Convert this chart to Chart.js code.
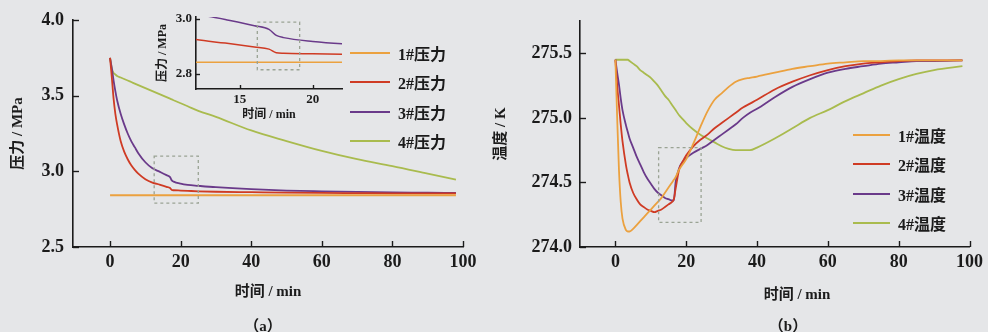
<!DOCTYPE html>
<html>
<head>
<meta charset="utf-8">
<script src="https://cdn.jsdelivr.net/npm/chart.js@4.4.1/dist/chart.umd.min.js"></script>
<style>
  body { margin: 0; background: #e5e6e8; width: 988px; height: 332px; overflow: hidden; position: relative;
    font-family: "Liberation Serif", "Noto Sans CJK SC", serif; font-weight: bold; color: #1b1b1b; }
  canvas { position: absolute; top: 0; }
  .lbl { position: absolute; transform: translate(-50%, -50%); white-space: nowrap; }
  .legend { position: absolute; }
  .legend .row { display: flex; align-items: center; height: 29.5px; font-size: 16px; }
  .legend .line { height: 2px; margin-right: 8px; }
</style>
</head>
<body>
<canvas id="chartA" width="490" height="332" style="left:0"></canvas>
<canvas id="inset" width="210" height="125" style="left:140px"></canvas>
<canvas id="chartB" width="498" height="332" style="left:490px"></canvas>
<div id="legendA" class="legend" style="left:350px; top:38px"></div>
<div id="legendB" class="legend" style="left:853px; top:120px"></div>
<div class="lbl" style="left:797px; top:292px; font-size:15px">时间 / min</div>
<div class="lbl" style="left:263px; top:324px; font-size:15px">（a）</div>
<div class="lbl" style="left:788px; top:324px; font-size:15px">（b）</div>
<script>
const colors = ["#eba13f", "#cf3b24", "#6a3a8a", "#a9bb4e"];
const pressureNames = ["1#压力", "2#压力", "3#压力", "4#压力"];
const tempNames = ["1#温度", "2#温度", "3#温度", "4#温度"];

// (a) pressure, MPa
const timeA = [0, 0.5, 1, 1.5, 2, 3, 4, 5, 6, 7, 8, 10, 12, 14, 16, 17, 17.5, 18, 20, 22, 25, 30, 40, 50, 60, 70, 80, 90, 98];
const p1 = [2.842, 2.842, 2.842, 2.842, 2.842, 2.842, 2.842, 2.842, 2.842, 2.842, 2.842, 2.842, 2.842, 2.842, 2.842, 2.842, 2.842, 2.842, 2.842, 2.842, 2.842, 2.842, 2.842, 2.842, 2.842, 2.842, 2.842, 2.842, 2.842];
const p2 = [3.75, 3.62, 3.48, 3.38, 3.31, 3.2, 3.13, 3.08, 3.04, 3.01, 2.985, 2.948, 2.925, 2.912, 2.898, 2.89, 2.877, 2.875, 2.873, 2.871, 2.868, 2.865, 2.862, 2.859, 2.857, 2.856, 2.855, 2.855, 2.854];
const p3 = [3.75, 3.68, 3.6, 3.53, 3.47, 3.38, 3.31, 3.25, 3.2, 3.16, 3.12, 3.06, 3.02, 2.998, 2.975, 2.962, 2.94, 2.932, 2.918, 2.91, 2.904, 2.895, 2.882, 2.873, 2.868, 2.864, 2.861, 2.859, 2.857];
const p4 = [3.75, 3.68, 3.65, 3.64, 3.63, 3.62, 3.61, 3.6, 3.59, 3.58, 3.57, 3.55, 3.53, 3.51, 3.49, 3.48, 3.475, 3.47, 3.45, 3.43, 3.4, 3.36, 3.27, 3.2, 3.135, 3.08, 3.035, 2.985, 2.945];

// (b) temperature, K
const timeB = [0, 0.5, 1, 1.5, 2, 3, 3.5, 4, 5, 6, 7, 8, 9, 10, 11, 12, 13, 14, 15, 16, 16.5, 17, 18, 19, 20, 22, 24, 26, 28, 30, 32, 34, 36, 38, 40, 45, 50, 55, 60, 65, 70, 75, 80, 85, 90, 98];
const t1 = [275.45, 275.0, 274.6, 274.35, 274.22, 274.13, 274.12, 274.12, 274.14, 274.17, 274.2, 274.23, 274.26, 274.29, 274.32, 274.35, 274.38, 274.42, 274.46, 274.5, 274.52, 274.54, 274.6, 274.64, 274.68, 274.8, 274.93, 275.05, 275.14, 275.19, 275.24, 275.28, 275.3, 275.31, 275.32, 275.35, 275.38, 275.4, 275.42, 275.43, 275.44, 275.44, 275.445, 275.445, 275.445, 275.445];
const t2 = [275.45, 275.25, 275.1, 274.95, 274.82, 274.63, 274.56, 274.5, 274.42, 274.37, 274.33, 274.31, 274.29, 274.28, 274.27, 274.28, 274.29, 274.31, 274.33, 274.35, 274.37, 274.45, 274.6, 274.66, 274.71, 274.78, 274.83, 274.87, 274.92, 274.96, 275.0, 275.04, 275.08, 275.11, 275.14, 275.22, 275.28, 275.33, 275.37, 275.4, 275.42, 275.43, 275.44, 275.445, 275.445, 275.445];
const t3 = [275.45, 275.35, 275.26, 275.15, 275.06, 274.94, 274.89, 274.84, 274.77, 274.7, 274.64, 274.58, 274.53, 274.49, 274.45, 274.42, 274.4, 274.38, 274.37, 274.36, 274.36, 274.5, 274.61, 274.66, 274.69, 274.73, 274.76, 274.79, 274.83, 274.87, 274.91, 274.95, 275.0, 275.04, 275.07, 275.16, 275.24, 275.3, 275.35, 275.38, 275.4, 275.42, 275.43, 275.44, 275.44, 275.445];
const t4 = [275.45, 275.45, 275.45, 275.45, 275.45, 275.45, 275.45, 275.44, 275.42, 275.4, 275.37, 275.35, 275.33, 275.31, 275.28, 275.25, 275.21, 275.17, 275.14, 275.1, 275.08, 275.06, 275.02, 274.99, 274.96, 274.91, 274.87, 274.84, 274.81, 274.78, 274.76, 274.75, 274.75, 274.75, 274.77, 274.84, 274.92, 275.0, 275.06, 275.13, 275.19, 275.25, 275.3, 275.34, 275.37, 275.4];

const ticksXMain = [0, 20, 40, 60, 80, 100];
const ticksYA = [2.5, 3.0, 3.5, 4.0];
const ticksYB = [274.0, 274.5, 275.0, 275.5];
const ticksXInset = [15, 20];
const ticksYInset = [2.8, 3.0];

// zoom boxes [xMin, xMax, yMin, yMax]
const boxA = [12.5, 25, 2.79, 3.1];
const boxInset = [16.2, 19.1, 2.815, 2.988];
const boxB = [12.2, 24.2, 274.19, 274.77];

Chart.defaults.font.family = '"Liberation Serif", "Noto Sans CJK SC", serif';
Chart.defaults.font.weight = "bold";
Chart.defaults.color = "#1b1b1b";

const toPts = (xs, ys) => xs.map((x, i) => ({ x, y: ys[i] }));

// inward tick marks + dotted zoom box
const decor = {
  id: "decor",
  afterDatasetsDraw(chart, args, opts) {
    const { ctx, chartArea: a, scales: { x, y } } = chart;
    ctx.save();
    if (opts.box) {
      const [x0, x1, y0, y1] = opts.box;
      ctx.strokeStyle = "#9aa394";
      ctx.lineWidth = 1.3;
      ctx.setLineDash([3, 3]);
      const l = x.getPixelForValue(x0), r = x.getPixelForValue(x1);
      const t = y.getPixelForValue(y1), b = y.getPixelForValue(y0);
      ctx.strokeRect(l, t, r - l, b - t);
      ctx.setLineDash([]);
    }
    ctx.strokeStyle = "#1b1b1b";
    ctx.lineWidth = 1.4;
    const len = opts.len || 6;
    x.ticks.forEach((tk) => {
      const px = Math.round(x.getPixelForValue(tk.value)) + 0.5;
      ctx.beginPath(); ctx.moveTo(px, a.bottom); ctx.lineTo(px, a.bottom - len); ctx.stroke();
    });
    y.ticks.forEach((tk) => {
      const py = Math.round(y.getPixelForValue(tk.value)) + 0.5;
      ctx.beginPath(); ctx.moveTo(a.left, py); ctx.lineTo(a.left + len, py); ctx.stroke();
    });
    ctx.restore();
  },
};

function makeChart(id, time, series, names, o) {
  return new Chart(document.getElementById(id), {
    type: "line",
    data: {
      datasets: series.map((s, i) => ({
        label: names[i],
        data: toPts(time, s),
        borderColor: colors[i],
        borderWidth: o.lw,
        pointRadius: 0,
        cubicInterpolationMode: "monotone",
      })),
    },
    options: {
      responsive: false,
      animation: false,
      layout: { padding: o.pad },
      plugins: { legend: { display: false }, tooltip: { enabled: false }, decor: { box: o.box, len: o.len } },
      scales: {
        x: {
          type: "linear", min: o.x[0], max: o.x[1],
          grid: { display: false, drawTicks: false },
          border: { display: true, color: "#1b1b1b", width: 1.6 },
          afterBuildTicks: (s) => { s.ticks = o.xt.map((v) => ({ value: v })); },
          afterFit: (s) => { s.height = o.xh; },
          ticks: { padding: o.xtp, font: { size: o.tf }, callback: (v) => v },
          title: o.xtitle ? { display: true, text: o.xtitle, font: { size: o.ttf }, padding: { bottom: o.xtpad, top: 0 } } : { display: false },
        },
        y: {
          min: o.y[0], max: o.y[1],
          grid: { display: false, drawTicks: false },
          border: { display: true, color: "#1b1b1b", width: 1.6 },
          afterBuildTicks: (s) => { s.ticks = o.yt.map((v) => ({ value: v })); },
          afterFit: (s) => { s.width = o.yw; },
          ticks: { padding: o.ytp, font: { size: o.tf }, callback: (v) => v.toFixed(1) },
          title: { display: true, text: o.ytitle, font: { size: o.ttf }, padding: { top: o.ytpad, bottom: 0 } },
        },
      },
    },
    plugins: [decor],
  });
}

makeChart("chartA", timeA, [p1, p2, p3, p4], pressureNames, {
  lw: 1.8, pad: { top: 20, right: 27, left: 0, bottom: 0 }, box: boxA, len: 6,
  x: [-10.5, 100], y: [2.5, 4.0], xt: ticksXMain, yt: ticksYA,
  xh: 85, yw: 73, xtp: 5, ytp: 9, tf: 18, ttf: 15,
  xtitle: "时间 / min", xtpad: 31, ytitle: "压力 / MPa", ytpad: 9,
});

makeChart("inset", timeA, [p1, p2, p3, p4], pressureNames, {
  lw: 1.5, pad: { top: 17, right: 8, left: 0, bottom: 0 }, box: boxInset, len: 4,
  x: [12, 22], y: [2.745, 3.007], xt: ticksXInset, yt: ticksYInset,
  xh: 36, yw: 56, xtp: 3, ytp: 4, tf: 13, ttf: 12,
  xtitle: "时间 / min", xtpad: 3, ytitle: "压力 / MPa", ytpad: 16,
});

makeChart("chartB", timeB, [t1, t2, t3, t4], tempNames, {
  lw: 1.8, pad: { top: 21, right: 12, left: 0, bottom: 0 }, box: boxB, len: 6,
  x: [-10, 100], y: [274.0, 275.75], xt: ticksXMain, yt: ticksYB,
  xh: 85, yw: 90, xtp: 5, ytp: 8, tf: 18, ttf: 15,
  xtitle: null, ytitle: "温度 / K", ytpad: 2,
});

function buildLegend(id, names, w) {
  document.getElementById(id).innerHTML = names
    .map((n, i) => `<div class="row"><div class="line" style="width:${w}px;background:${colors[i]}"></div><span>${n}</span></div>`)
    .join("");
}
buildLegend("legendA", pressureNames, 40);
buildLegend("legendB", tempNames, 37);
</script>
</body>
</html>
